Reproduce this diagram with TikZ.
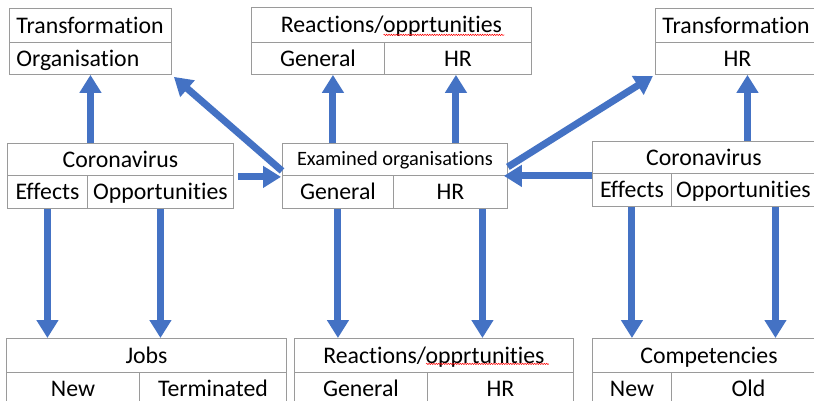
\documentclass[tikz,border=0pt]{standalone}
\usepackage{fontspec}
\setmainfont{Carlito}[Ligatures=NoCommon]
\usetikzlibrary{arrows.meta,decorations.pathmorphing}
\definecolor{arrblue}{HTML}{4472C4}
\definecolor{boxgray}{HTML}{9A9A9A}
\begin{document}
\begin{tikzpicture}[x=1pt,y=-1pt,
  cell/.style={draw=boxgray, line width=0.9pt, inner sep=0pt, anchor=north west,
    font=\fontsize{23.8}{27}\selectfont, text height=15.3pt, text depth=0pt},
  lcell/.style={cell, align=left, inner xsep=7pt},
  smallcell/.style={cell, font=\fontsize{20.4}{24}\selectfont, text height=13.1pt},
  arr/.style={draw=arrblue, line width=7pt, -{Triangle[length=18pt,width=21pt]}},
  squig/.style={draw=red, line width=0.5pt, decorate,
    decoration={snake, amplitude=0.7pt, segment length=2.4pt}}]
\useasboundingbox (0,0) rectangle (814,401);
\clip (0,0) rectangle (814,401);
\fill[white] (0,0) rectangle (814,401);

% top-left
\node[lcell, minimum width=162pt, minimum height=34pt, text width=148pt] (tlT) at (9,8) {Transformation};
\node[lcell, minimum width=162pt, minimum height=32pt, text width=148pt] (tlO) at (9,42) {Organisation};
% top-centre
\node[cell, minimum width=280pt, minimum height=35pt] (tcT) at (251,7) {Reactions/opprtunities};
\node[cell, minimum width=133pt, minimum height=32pt] (tcG) at (251,42) {General};
\node[cell, minimum width=147pt, minimum height=32pt] (tcH) at (384,42) {HR};
% top-right
\node[lcell, minimum width=164pt, minimum height=34pt, text width=150pt] (trT) at (655,8) {Transformation};
\node[cell, minimum width=164pt, minimum height=32pt] (trH) at (655,42) {HR};
% left coronavirus
\node[cell, minimum width=226pt, minimum height=32pt] (lcT) at (7,143) {Coronavirus};
\node[cell, minimum width=80pt, minimum height=33pt] (lcE) at (7,175) {Effects};
\node[cell, minimum width=146pt, minimum height=33pt] (lcO) at (87,175) {Opportunities};
% examined organisations
\node[smallcell, minimum width=225pt, minimum height=32pt] (exT) at (282,143) {Examined organisations};
\node[cell, minimum width=111pt, minimum height=33pt] (exG) at (282,175) {General};
\node[cell, minimum width=114pt, minimum height=33pt] (exH) at (393,175) {HR};
% right coronavirus
\node[cell, minimum width=223pt, minimum height=32pt] (rcT) at (592,141) {Coronavirus};
\node[cell, minimum width=79pt, minimum height=33pt] (rcE) at (592,173) {Effects};
\node[cell, minimum width=144pt, minimum height=33pt] (rcO) at (671,173) {Opportunities};
% jobs
\node[cell, minimum width=280pt, minimum height=34pt] (jbT) at (6,338) {Jobs};
\node[cell, minimum width=133pt, minimum height=32pt] (jbN) at (6,372) {New};
\node[cell, minimum width=147pt, minimum height=32pt] (jbX) at (139,372) {Terminated};
% bottom reactions
\node[cell, minimum width=279pt, minimum height=34pt] (brT) at (294,338) {Reactions/opprtunities};
\node[cell, minimum width=133pt, minimum height=32pt] (brG) at (294,372) {General};
\node[cell, minimum width=146pt, minimum height=32pt] (brH) at (427,372) {HR};
% competencies
\node[cell, minimum width=233pt, minimum height=34pt] (cpT) at (592,338) {Competencies};
\node[cell, minimum width=79pt, minimum height=32pt] (cpN) at (592,372) {New};
\node[cell, minimum width=154pt, minimum height=32pt] (cpO) at (671,372) {Old};

% spell-check squiggles
\draw[squig] ([xshift=-8pt,yshift=8pt]tcT.south) -- ([xshift=113pt,yshift=8pt]tcT.south);
\draw[squig] ([xshift=-8pt,yshift=9pt]brT.south) -- ([xshift=115pt,yshift=9pt]brT.south);

% helper coordinates
\coordinate (uG) at ([xshift=15pt]tcG.south);
\coordinate (uH) at ([xshift=-2pt]tcH.south);
\coordinate (uR) at ([xshift=10pt]trH.south);
\coordinate (dH) at ([xshift=32pt]exH.south);
\coordinate (dR) at ([xshift=32pt]rcO.south);

% arrows up
\draw[arr] (lcT.north -| tlO.south) -- (tlO.south);
\draw[arr] (uG |- exT.north) -- (uG);
\draw[arr] (uH |- exT.north) -- (uH);
\draw[arr] (uR |- rcT.north) -- (uR);
% diagonals
\draw[arr] ([yshift=5pt]exT.south west) -- ([xshift=2pt,yshift=-2pt]tlO.south east);
\draw[arr] ([yshift=9pt]exT.south east) -- ([xshift=-2pt,yshift=-1pt]trH.south west);
% horizontals
\draw[arr] ([xshift=4pt,yshift=-1pt]lcT.south east) -- ([xshift=-1pt,yshift=-1pt]exT.south west);
\draw[arr] ([yshift=-2pt]rcT.south west) -- ([xshift=-4pt]exT.south east);
% arrows down
\draw[arr] (lcE.south) -- (lcE.south |- jbT.north);
\draw[arr] (lcO.south) -- (lcO.south |- jbT.north);
\draw[arr] (exG.south) -- (exG.south |- brT.north);
\draw[arr] (dH) -- (dH |- brT.north);
\draw[arr] (rcE.south) -- (rcE.south |- cpT.north);
\draw[arr] (dR) -- (dR |- cpT.north);
\end{tikzpicture}
\end{document}
